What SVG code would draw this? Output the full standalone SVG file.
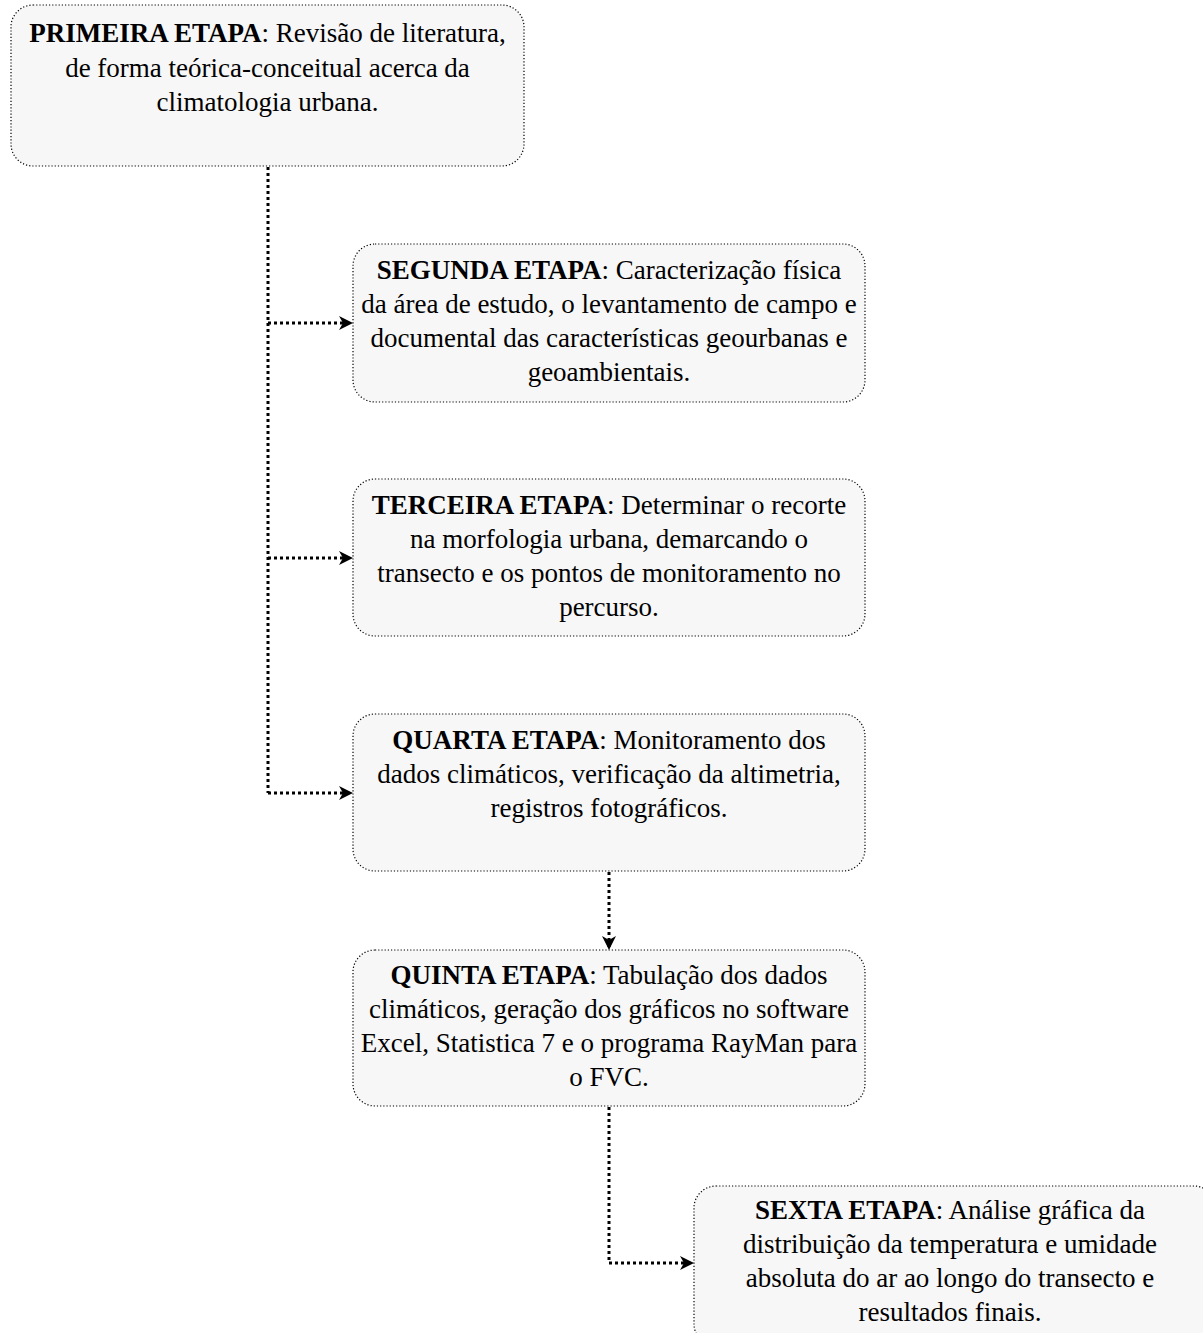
<svg xmlns="http://www.w3.org/2000/svg" width="1203" height="1333" viewBox="0 0 1203 1333">
<style>
.box{fill:#f7f7f7;stroke:#000;stroke-width:1.2;stroke-dasharray:1.2 2}
.t{font-family:"Liberation Serif","Times New Roman",Times,serif;font-size:27px;fill:#000;text-anchor:middle}
.b{font-weight:bold}
.c{fill:none;stroke:#000;stroke-width:3;stroke-dasharray:3 3}
</style>
<defs>
<marker id="ah" markerWidth="14" markerHeight="14" refX="13" refY="7" orient="auto" markerUnits="userSpaceOnUse">
<path d="M0,0 L14,7 L0,14 L4,7 Z" fill="#000"/>
</marker>
</defs>
<rect width="1203" height="1333" fill="#fff"/>
<g id="connectors">
<path class="c" d="M268,167 V793"/>
<path class="c" d="M268,323 H352" marker-end="url(#ah)"/>
<path class="c" d="M268,558 H352" marker-end="url(#ah)"/>
<path class="c" d="M268,793 H352" marker-end="url(#ah)"/>
<path class="c" d="M609,872 V949" marker-end="url(#ah)"/>
<path class="c" d="M609,1107 V1263 H693" marker-end="url(#ah)"/>
</g>
<g id="n1">
<rect class="box" x="11" y="5" width="513" height="161" rx="22"/>
<text class="t" x="267.5" y="42"><tspan class="b">PRIMEIRA ETAPA</tspan>: Revisão de literatura,</text>
<text class="t" x="267.5" y="77">de forma teórica-conceitual acerca da</text>
<text class="t" x="267.5" y="111">climatologia urbana.</text>
</g>
<g id="n2">
<rect class="box" x="353" y="244" width="512" height="158" rx="22"/>
<text class="t" x="609" y="279"><tspan class="b">SEGUNDA ETAPA</tspan>: Caracterização física</text>
<text class="t" x="609" y="313">da área de estudo, o levantamento de campo e</text>
<text class="t" x="609" y="347">documental das características geourbanas e</text>
<text class="t" x="609" y="381">geoambientais.</text>
</g>
<g id="n3">
<rect class="box" x="353" y="479" width="512" height="157" rx="22"/>
<text class="t" x="609" y="514"><tspan class="b">TERCEIRA ETAPA</tspan>: Determinar o recorte</text>
<text class="t" x="609" y="548">na morfologia urbana, demarcando o</text>
<text class="t" x="609" y="582">transecto e os pontos de monitoramento no</text>
<text class="t" x="609" y="616">percurso.</text>
</g>
<g id="n4">
<rect class="box" x="353" y="714" width="512" height="157" rx="22"/>
<text class="t" x="609" y="749"><tspan class="b">QUARTA ETAPA</tspan>: Monitoramento dos</text>
<text class="t" x="609" y="783">dados climáticos, verificação da altimetria,</text>
<text class="t" x="609" y="817">registros fotográficos.</text>
</g>
<g id="n5">
<rect class="box" x="353" y="950" width="512" height="156" rx="22"/>
<text class="t" x="609" y="984"><tspan class="b">QUINTA ETAPA</tspan>: Tabulação dos dados</text>
<text class="t" x="609" y="1018">climáticos, geração dos gráficos no software</text>
<text class="t" x="609" y="1052">Excel, Statistica 7 e o programa RayMan para</text>
<text class="t" x="609" y="1086">o FVC.</text>
</g>
<g id="n6">
<rect class="box" x="694" y="1186" width="522" height="160" rx="22"/>
<text class="t" x="950" y="1219"><tspan class="b">SEXTA ETAPA</tspan>: Análise gráfica da</text>
<text class="t" x="950" y="1253">distribuição da temperatura e umidade</text>
<text class="t" x="950" y="1287">absoluta do ar ao longo do transecto e</text>
<text class="t" x="950" y="1321">resultados finais.</text>
</g>
</svg>
